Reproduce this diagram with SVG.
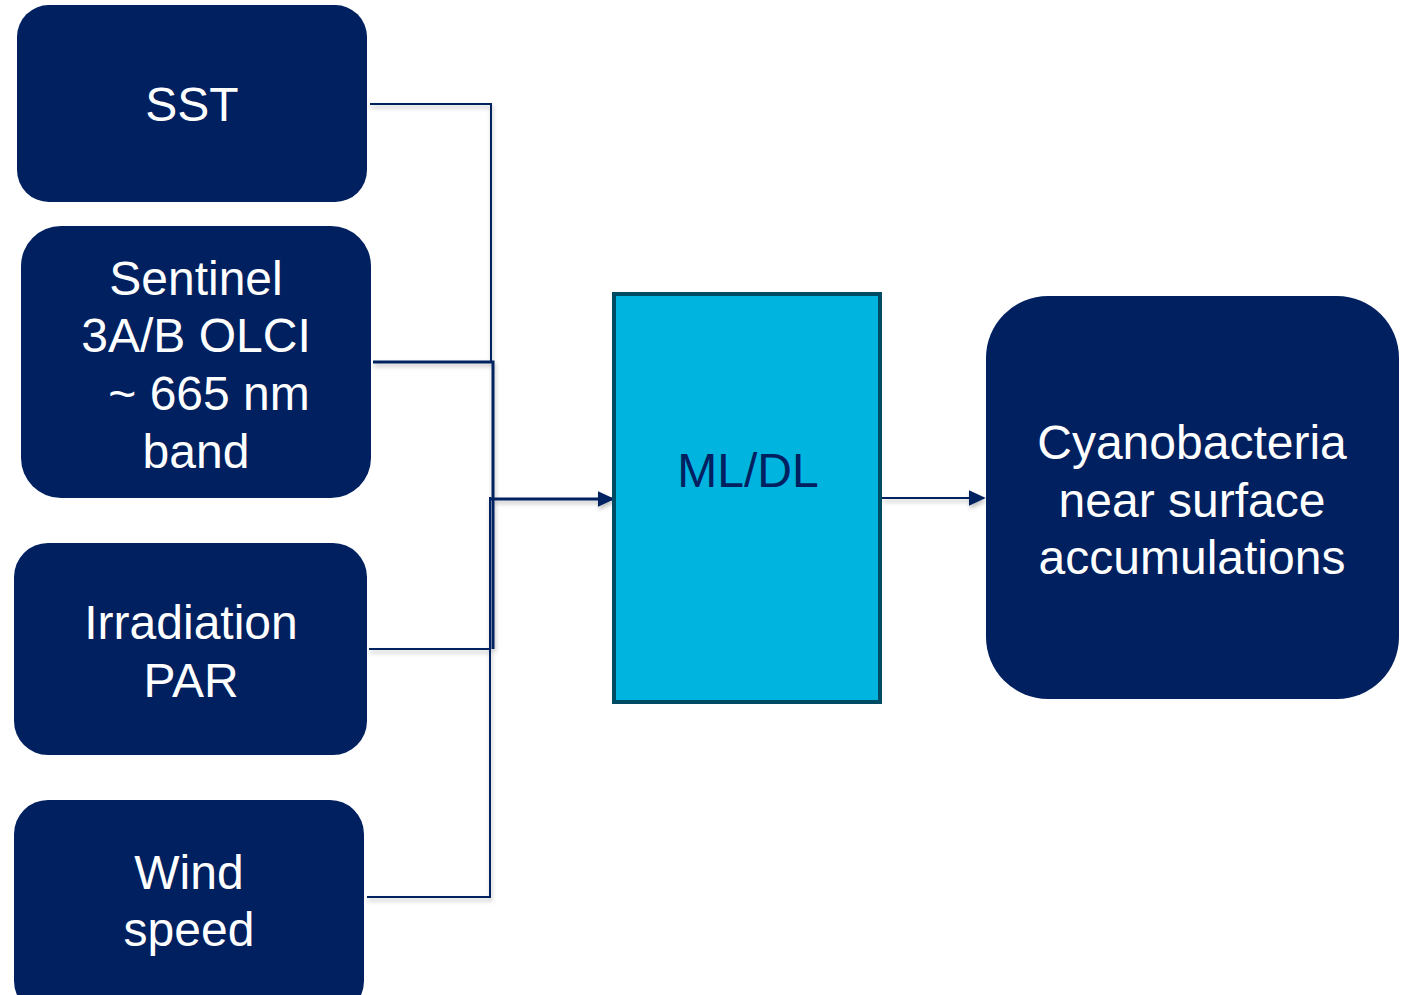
<svg xmlns="http://www.w3.org/2000/svg" width="1409" height="995" viewBox="0 0 1409 995">
  <style>
    .node { fill: #002060; }
    .label { font-family: "Liberation Sans", Arial, sans-serif; font-size: 48px; fill: #ffffff; text-anchor: middle; }
    .dark { fill: #002060; }
    .wire { fill: none; stroke: #002060; stroke-width: 2; }
  </style>
  <defs>
    <marker id="arrow" viewBox="0 0 10 10" refX="9" refY="5" markerWidth="17" markerHeight="17" orient="auto" markerUnits="userSpaceOnUse">
      <path d="M0,0.3 L10,5 L0,9.7 z" fill="#002060"/>
    </marker>
    <filter id="soft" x="-10%" y="-50%" width="120%" height="300%">
      <feDropShadow dx="1" dy="3" stdDeviation="2" flood-color="#000" flood-opacity="0.25"/>
    </filter>
  </defs>
  <rect width="1409" height="995" fill="#ffffff"/>

  <g id="connectors" filter="url(#soft)">
    <polyline class="wire" points="370,104 491,104 491,362"/>
    <polyline class="wire" points="373,362 493,362 493,649" style="stroke-width:3"/>
    <polyline class="wire" points="369,649 491,649"/>
    <polyline class="wire" points="367,897 490,897 490,497"/>
    <line class="wire" x1="491" y1="499" x2="613" y2="499" style="stroke-width:3" marker-end="url(#arrow)"/>
    <line class="wire" x1="882" y1="498" x2="984" y2="498" marker-end="url(#arrow)"/>
  </g>

  <g id="sst">
    <rect class="node" x="17" y="5" width="350" height="197" rx="32"/>
    <text class="label" x="192" y="121">SST</text>
  </g>

  <g id="sentinel">
    <rect class="node" x="21" y="226" width="350" height="272" rx="40"/>
    <text class="label" x="196" y="295">Sentinel</text>
    <text class="label" x="196" y="352">3A/B OLCI</text>
    <text class="label" x="209" y="410">~ 665 nm</text>
    <text class="label" x="196" y="468">band</text>
  </g>

  <g id="irradiation">
    <rect class="node" x="14" y="543" width="353" height="212" rx="34"/>
    <text class="label" x="191" y="639">Irradiation</text>
    <text class="label" x="191" y="697">PAR</text>
  </g>

  <g id="wind">
    <rect class="node" x="14" y="800" width="350" height="215" rx="34"/>
    <text class="label" x="189" y="889">Wind</text>
    <text class="label" x="189" y="946">speed</text>
  </g>

  <g id="model">
    <rect x="614" y="294" width="266" height="408" fill="#00B4E0" stroke="#004B63" stroke-width="4"/>
    <text class="label dark" x="748" y="487">ML/DL</text>
  </g>

  <g id="output">
    <rect class="node" x="986" y="296" width="413" height="403" rx="62"/>
    <text class="label" x="1192" y="459">Cyanobacteria</text>
    <text class="label" x="1192" y="517">near surface</text>
    <text class="label" x="1192" y="574">accumulations</text>
  </g>
</svg>
